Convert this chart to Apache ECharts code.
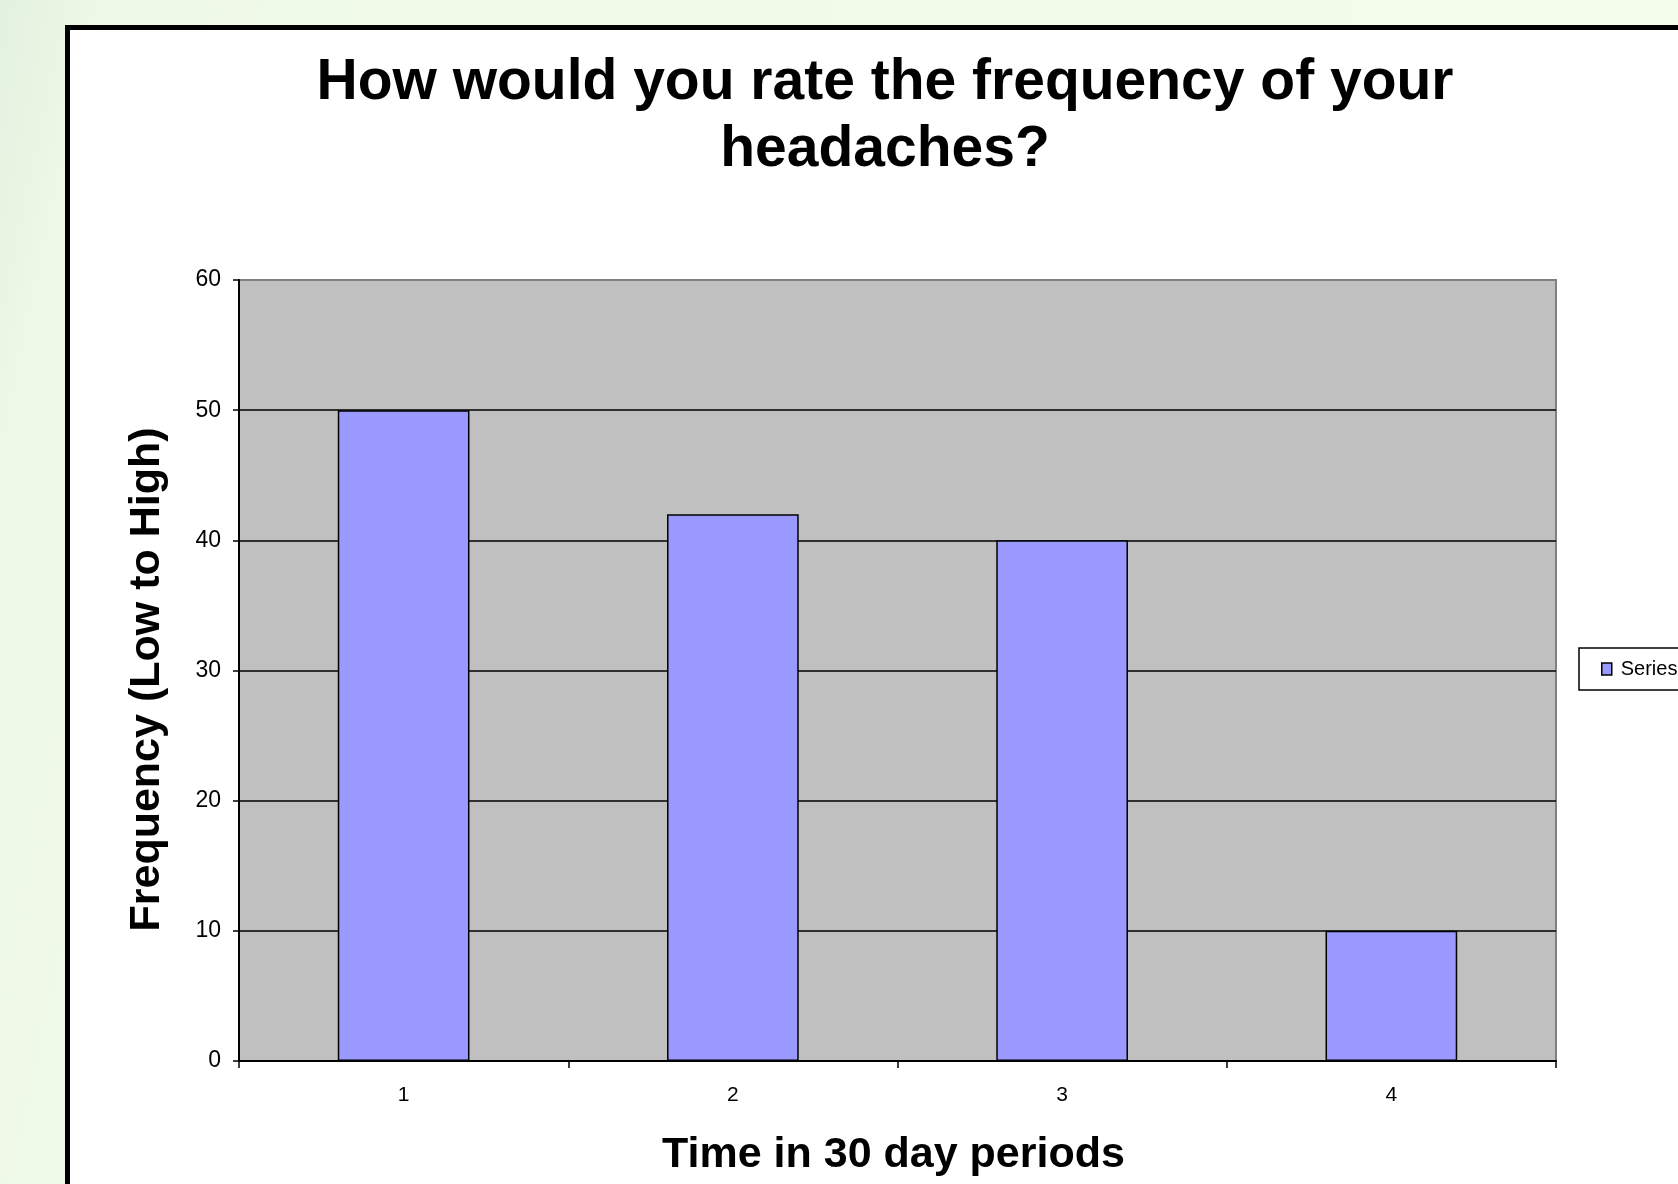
<!DOCTYPE html>
<html>
<head>
<meta charset="utf-8">
<script src="https://cdn.jsdelivr.net/npm/echarts@6/dist/echarts.min.js"></script>
<style>
  html, body { margin: 0; padding: 0; }
  #chart { width: 1678px; height: 1184px; }
</style>
</head>
<body>
<div id="chart"></div>
<script>
// data
const categories = ['1', '2', '3', '4']
const values = [50, 42, 40, 10]
const seriesName = 'Series1'
const yMin = 0
const yMax = 60
const yStep = 10

const font = 'Arial, "Liberation Sans", sans-serif'

const chart = echarts.init(document.getElementById('chart'))

const option = {
  animation: false,
  graphic: [
    {
      type: 'rect',
      z: -20,
      shape: { x: 0, y: 0, width: 1678, height: 1184 },
      style: {
        fill: new echarts.graphic.LinearGradient(0, 0, 1, 0.3, [
          { offset: 0, color: '#e3f1e0' },
          { offset: 0.06, color: '#eef9e6' },
          { offset: 1, color: '#f4fde9' }
        ])
      }
    },
    {
      type: 'rect',
      z: -19,
      shape: { x: 67.5, y: 27.5, width: 1700, height: 1300 },
      style: { fill: '#ffffff', stroke: '#000000', lineWidth: 5 }
    }
  ],
  title: {
    text: 'How would you rate the frequency of your\nheadaches?',
    left: 885,
    top: 50,
    padding: 0,
    textAlign: 'center',
    textStyle: {
      fontFamily: font,
      fontSize: 57,
      fontWeight: 'bold',
      color: '#000',
      lineHeight: 67
    }
  },
  legend: {
    left: 1579,
    top: 648,
    orient: 'vertical',
    padding: [11, 60, 11, 22],
    backgroundColor: '#ffffff',
    borderColor: '#000000',
    borderWidth: 1.5,
    borderRadius: 0,
    itemWidth: 10,
    itemHeight: 12,
    icon: 'rect',
    itemStyle: { borderColor: '#000', borderWidth: 1.5 },
    textStyle: {
      fontFamily: font,
      fontSize: 20,
      color: '#000',
      padding: [0, 0, 0, 4]
    },
    data: [seriesName]
  },
  grid: {
    left: 239,
    top: 280,
    width: 1317,
    height: 781,
    show: true,
    backgroundColor: '#c0c0c0',
    borderColor: '#808080',
    borderWidth: 2
  },
  xAxis: {
    type: 'category',
    data: categories,
    boundaryGap: true,
    name: 'Time in 30 day periods',
    nameLocation: 'middle',
    nameGap: 73,
    nameTextStyle: {
      fontFamily: font,
      fontSize: 43,
      fontWeight: 'bold',
      color: '#000',
      padding: [0, 8, 0, 0]
    },
    axisLine: { lineStyle: { color: '#000', width: 2 } },
    axisTick: { show: true, length: 7, lineStyle: { color: '#000', width: 1.5 } },
    axisLabel: {
      fontFamily: font,
      fontSize: 21,
      color: '#000',
      margin: 24
    },
    splitLine: { show: false }
  },
  yAxis: {
    type: 'value',
    min: yMin,
    max: yMax,
    interval: yStep,
    name: 'Frequency (Low to High)',
    nameLocation: 'middle',
    nameGap: 70,
    nameTextStyle: {
      fontFamily: font,
      fontSize: 43,
      fontWeight: 'bold',
      color: '#000',
      padding: [0, 18, 0, 0]
    },
    axisLine: { show: true, lineStyle: { color: '#000', width: 2 } },
    axisTick: { show: true, length: 6, lineStyle: { color: '#000', width: 1.5 } },
    axisLabel: {
      fontFamily: font,
      fontSize: 23,
      color: '#000',
      margin: 18
    },
    splitLine: {
      show: true,
      showMaxLine: false,
      lineStyle: { color: '#000', width: 1.5 }
    }
  },
  series: [
    {
      name: seriesName,
      type: 'bar',
      data: values,
      barWidth: '40%',
      itemStyle: {
        color: '#9999ff',
        borderColor: '#000',
        borderWidth: 1.5
      }
    }
  ]
}

chart.setOption(option)
</script>
</body>
</html>
